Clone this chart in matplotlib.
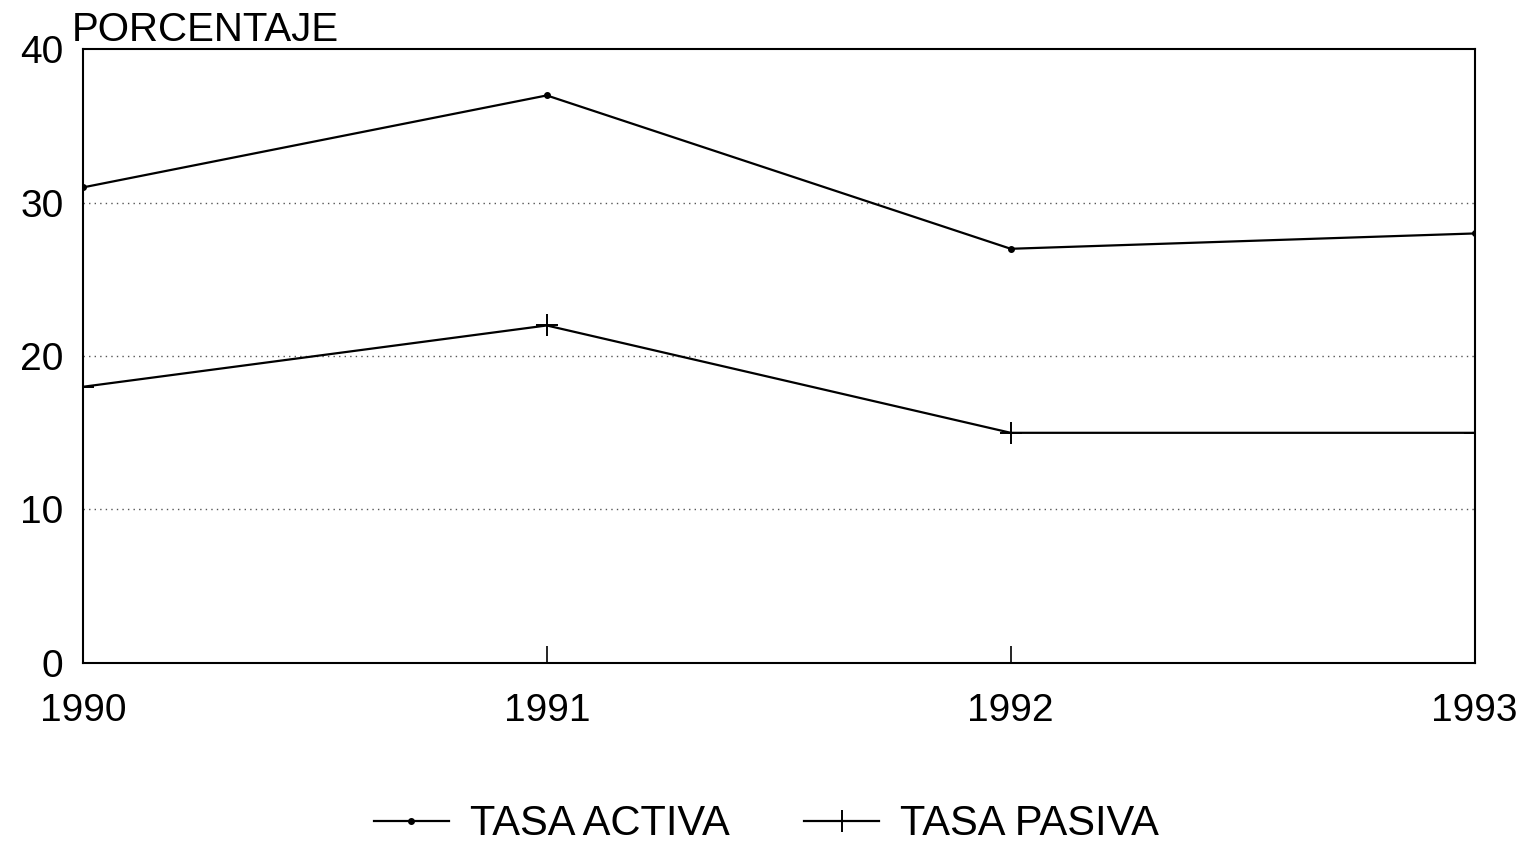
import matplotlib
matplotlib.use('Agg')
import matplotlib.pyplot as plt

years = [1990, 1991, 1992, 1993]
tasa_activa = [31, 37, 27, 28]
tasa_pasiva = [18, 22, 15, 15]
y_ticks = [0, 10, 20, 30, 40]

plt.rcParams['font.family'] = ['Liberation Sans', 'DejaVu Sans']

fig = plt.figure(figsize=(15.33, 8.52), dpi=100)
ax = fig.add_axes([0.054, 0.222, 0.908, 0.72])

for v in y_ticks[1:-1]:
    ax.axhline(v, color='#555555', lw=1.0, ls=(0, (1, 3)), zorder=1)

ax.plot(years, tasa_activa, color='black', lw=1.6, marker='o', markersize=4,
        label='TASA ACTIVA', zorder=3)
ax.plot(years, tasa_pasiva, color='black', lw=1.6, marker='+', markersize=16,
        markeredgewidth=1.4, label='TASA PASIVA', zorder=3)

ax.set_xlim(1990, 1993)
ax.set_ylim(0, 40)
ax.set_xticks(years)
ax.set_xticklabels([str(y) for y in years])
ax.set_yticks(y_ticks)
ax.tick_params(axis='x', direction='in', length=12, width=1.2, pad=22, labelsize=28)
ax.tick_params(axis='y', length=0, pad=14, labelsize=28)
for s in ax.spines.values():
    s.set_linewidth(1.5)

fig.text(0.047, 0.965, 'PORCENTAJE', fontsize=29, ha='left', va='center')

fig.legend(loc='lower center', bbox_to_anchor=(0.5, -0.035), ncol=2, frameon=False,
           fontsize=30, handlelength=1.8, handletextpad=0.5, columnspacing=1.8)

fig.savefig('out.png', dpi=100)
